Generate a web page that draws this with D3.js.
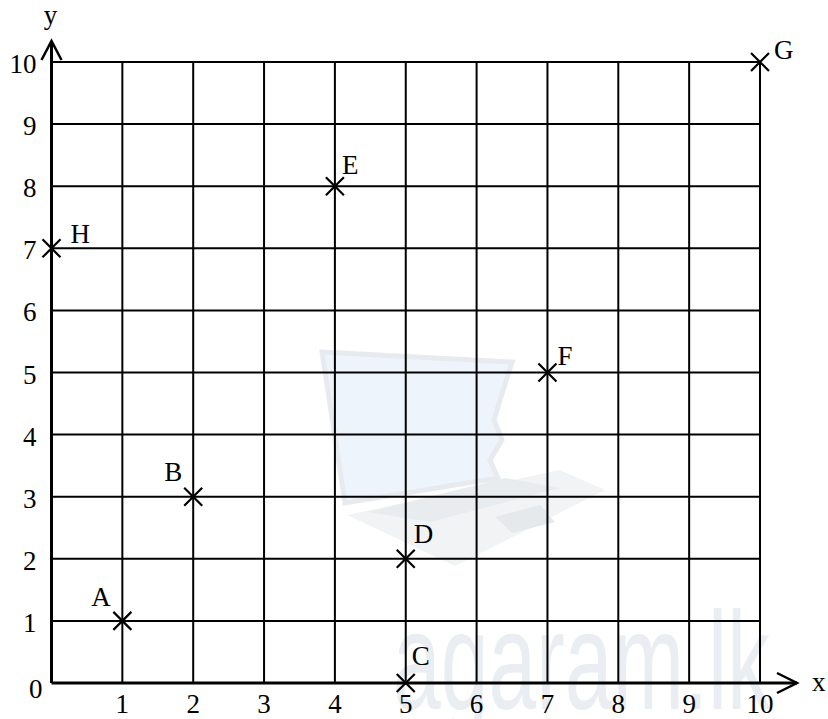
<!DOCTYPE html>
<html><head><meta charset="utf-8">
<script src="https://cdn.jsdelivr.net/npm/d3@7"></script>
<style>body{margin:0;background:#fff}svg{display:block}</style>
</head><body>
<script>
// ---- data ----
const pointNames = ["A","B","C","D","E","F","G","H"];
const pointX = [1,2,5,5,4,7,10,0];
const pointY = [1,3,0,2,8,5,10,7];
const xTicks = [0,1,2,3,4,5,6,7,8,9,10];
const yTicks = [1,2,3,4,5,6,7,8,9,10];
const axisLabels = ["x","y"];
const watermarkText = "agaram.lk";

// ---- layout ----
const W = 828, H = 719;
const svg = d3.select("body").append("svg").attr("width", W).attr("height", H);
const x = d3.scaleLinear().domain([0,10]).range([51.5,760]);
const y = d3.scaleLinear().domain([0,10]).range([683,62]);
const serif = "'Liberation Serif', 'Times New Roman', Times, serif";
const fs = 27;

// watermark (laptop logo + text)
const wm = svg.append("g");
wm.append("path").attr("d","M322,352 L512,362 L507,378 L500,400 L494,420 L502,440 L490,460 L498,478 L345,503 Z")
  .attr("fill","#eef4fb").attr("stroke","#e7ebef").attr("stroke-width",5);
wm.append("path").attr("d","M347,515 L560,470 L605,490 L455,566 Z").attr("fill","#f1f3f5");
wm.append("path").attr("d","M368,512 L505,478 L560,488 L430,522 Z").attr("fill","#e8ecef");
wm.append("path").attr("d","M495,517 L540,505 L555,522 L512,533 Z").attr("fill","#e6e9ec");
wm.append("text").attr("x",393).attr("y",709).style("font-family","'Liberation Sans', Arial, sans-serif")
  .attr("font-size",140).attr("textLength",377).attr("lengthAdjust","spacingAndGlyphs")
  .attr("fill","#eaeef2").text(watermarkText);

// grid
const grid = svg.append("g").attr("stroke","#000").attr("stroke-width",2);
grid.selectAll("line.v").data(xTicks.filter(d=>d>0)).join("line")
  .attr("x1",d=>x(d)).attr("x2",d=>x(d)).attr("y1",y(0)).attr("y2",y(10));
grid.selectAll("line.h").data(yTicks).join("line")
  .attr("x1",x(0)).attr("x2",x(10)).attr("y1",d=>y(d)).attr("y2",d=>y(d));

// axes
const ax = svg.append("g").attr("stroke","#000").attr("stroke-width",3).attr("fill","none");
ax.append("line").attr("x1",x(0)).attr("x2",797).attr("y1",y(0)).attr("y2",y(0));
ax.append("line").attr("x1",x(0)).attr("x2",x(0)).attr("y1",y(0)).attr("y2",41);
ax.append("path").attr("d",`M777,${y(0)-10} L797,${y(0)} L777,${y(0)+10}`).attr("stroke-width",2.5);
ax.append("path").attr("d",`M${x(0)-10},60 L${x(0)},41 L${x(0)+10},60`).attr("stroke-width",2.5);

// tick labels
const tl = svg.append("g").style("font-family",serif).attr("font-size",fs).attr("fill","#000");
tl.selectAll("text.x").data(xTicks.filter(d=>d>0)).join("text")
  .attr("x",d=>x(d)).attr("y",y(0)+30).attr("text-anchor","middle").text(d=>d);
tl.selectAll("text.y").data(yTicks).join("text")
  .attr("x",x(0)-15).attr("y",d=>y(d)+11).attr("text-anchor","end").text(d=>d);
tl.append("text").attr("x",x(0)-9).attr("y",y(0)+15).attr("text-anchor","end").text(xTicks[0]);
tl.append("text").attr("x",812).attr("y",y(0)+8).text(axisLabels[0]);
tl.append("text").attr("x",x(0)-1).attr("y",24).attr("text-anchor","middle").text(axisLabels[1]);

// points
const labelOff = {A:[-31,-15],B:[-29,-16],C:[6,-18],D:[8,-16],E:[7,-12],F:[10,-8],G:[14,-3],H:[19,-5]};
const pts = pointNames.map((n,i)=>({n, px:pointX[i], py:pointY[i]}));
const s = 9;
const pg = svg.append("g");
pg.selectAll("path").data(pts).join("path")
  .attr("d",d=>{const cx=x(d.px), cy=y(d.py);return `M${cx-s},${cy-s}L${cx+s},${cy+s}M${cx-s},${cy+s}L${cx+s},${cy-s}`;})
  .attr("stroke","#000").attr("stroke-width",2.2).attr("fill","none");
pg.selectAll("text").data(pts).join("text")
  .attr("x",d=>x(d.px)+labelOff[d.n][0]).attr("y",d=>y(d.py)+labelOff[d.n][1])
  .style("font-family",serif).attr("font-size",fs).text(d=>d.n);
</script>
</body></html>
